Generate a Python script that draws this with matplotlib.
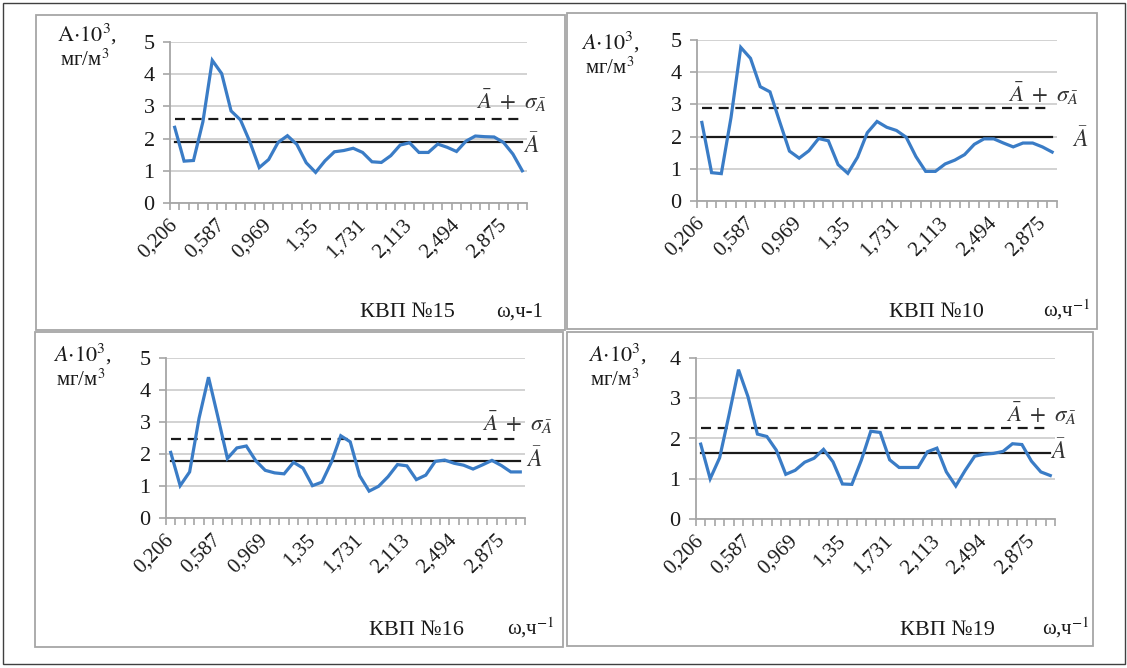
import numpy as np
import matplotlib
matplotlib.use('Agg')
import matplotlib.pyplot as plt
from matplotlib.patches import Rectangle

plt.rcParams['font.family'] = ['Liberation Serif', 'DejaVu Serif']
plt.rcParams['mathtext.fontset'] = 'stix'

# --- data ---
tick_labels = ['0,206', '0,587', '0,969', '1,35', '1,731', '2,113', '2,494', '2,875']

kvp15 = [2.35, 1.30, 1.32, 2.52, 4.43, 4.02, 2.86, 2.58, 1.90, 1.10,
         1.35, 1.88, 2.09, 1.82, 1.25, 0.95, 1.31, 1.59, 1.63, 1.70,
         1.57, 1.28, 1.26, 1.47, 1.80, 1.87, 1.57, 1.57, 1.83, 1.73,
         1.60, 1.92, 2.08, 2.06, 2.05, 1.88, 1.52, 1.00]
kvp10 = [2.44, 0.88, 0.85, 2.60, 4.77, 4.43, 3.55, 3.39, 2.46, 1.55,
         1.33, 1.56, 1.94, 1.87, 1.13, 0.86, 1.36, 2.12, 2.47, 2.29,
         2.19, 1.98, 1.38, 0.92, 0.92, 1.15, 1.27, 1.44, 1.76, 1.93,
         1.93, 1.80, 1.68, 1.80, 1.80, 1.68, 1.52]
kvp16 = [2.05, 1.01, 1.44, 3.12, 4.40, 3.15, 1.86, 2.19, 2.25, 1.79,
         1.49, 1.41, 1.38, 1.74, 1.56, 1.01, 1.12, 1.74, 2.57, 2.38,
         1.32, 0.84, 0.99, 1.29, 1.67, 1.63, 1.20, 1.34, 1.77, 1.81,
         1.71, 1.65, 1.53, 1.66, 1.80, 1.64, 1.44, 1.44]
kvp19 = [1.86, 1.00, 1.52, 2.59, 3.71, 3.04, 2.11, 2.05, 1.71, 1.11,
         1.21, 1.41, 1.51, 1.73, 1.42, 0.87, 0.86, 1.46, 2.18, 2.15,
         1.47, 1.28, 1.28, 1.28, 1.67, 1.76, 1.17, 0.82, 1.21, 1.56,
         1.61, 1.63, 1.68, 1.87, 1.85, 1.44, 1.17, 1.08]

means = [1.88, 1.98, 1.79, 1.65]
uppers = [2.61, 2.89, 2.48, 2.25]
names = ['КВП №15', 'КВП №10', 'КВП №16', 'КВП №19']
ymaxs = [5, 5, 5, 4]

W, H = 1127, 668
fig = plt.figure(figsize=(W / 100, H / 100), dpi=100)


def fx(x):
    return x / W


def fy(y):
    return 1 - y / H


def rect(x0, y0, x1, y1, color, lw):
    fig.patches.append(Rectangle((fx(x0), fy(y1)), fx(x1) - fx(x0), fy(y0) - fy(y1),
                                 transform=fig.transFigure, fill=False,
                                 edgecolor=color, linewidth=lw))


# outer frame and panel frames (pixels)
rect(3, 3, 1125, 664, '#404040', 1.0)
frames = [(36, 15, 565, 330), (567, 13, 1097, 329), (35, 332, 563, 647), (567, 332, 1093, 646)]
for f in frames:
    rect(*f, '#a6a6a6', 1.3)

# axes boxes: left, top(ymax), right, bottom(0) in pixels
axboxes = [(170, 42, 527, 203), (697, 40, 1057, 201), (166, 358, 525, 518), (696, 358, 1055, 519)]
series = [kvp15, kvp10, kvp16, kvp19]

# text anchors in pixels
ylab_pos = [(57, 41, 60, 66), (581, 49, 585, 74), (53, 361, 56, 386), (588, 361, 590, 386)]
name_pos = [(360, 317), (889, 317), (369, 635), (900, 635)]
omega_pos = [(496, 317), (1043, 317), (507, 635), (1042, 635)]
upper_pos = [(511, 101), (1043, 94), (517, 423), (1041, 414)]
mean_pos = [(531, 146), (1080, 140), (534, 460), (1058, 452)]

txt = '#1a1a1a'
for i in range(4):
    vals = series[i]
    n = len(vals)
    x = np.arange(n)
    l, t, r, b = axboxes[i]
    ax = fig.add_axes([fx(l), fy(b), fx(r) - fx(l), fy(t) - fy(b)])
    ax.plot(x, vals, color='#3a7cc6', lw=2.3, zorder=3, solid_joinstyle='miter')
    ax.plot([0, n - 1], [means[i], means[i]], color='#1a1a1a', lw=1.6, zorder=2)
    ax.plot([0, n - 1], [uppers[i], uppers[i]], color='#1a1a1a', lw=1.6,
            ls=(0, (4.5, 3)), zorder=2)
    ax.set_xlim(-0.5, n - 0.5)
    ax.set_ylim(0, ymaxs[i])
    ax.set_yticks(range(ymaxs[i] + 1))
    ax.yaxis.grid(True, color='#cfcfcf', lw=1.3)
    ax.set_axisbelow(True)
    for s in ['top', 'right']:
        ax.spines[s].set_visible(False)
    for s in ['left', 'bottom']:
        ax.spines[s].set_color('#a6a6a6')
        ax.spines[s].set_linewidth(1.3)
    ax.set_xticks(np.arange(0, n, 5)[:len(tick_labels)])
    ax.set_xticklabels(tick_labels, rotation=45, ha='right', va='center',
                       rotation_mode='anchor', fontsize=15, color=txt)
    ax.set_xticks(np.arange(n + 1) - 0.5, minor=True)
    ax.tick_params(axis='x', which='major', length=0, pad=14)
    ax.tick_params(axis='x', which='minor', length=5, width=1.2, color='#a6a6a6')
    ax.tick_params(axis='y', length=5, width=1.2, color='#a6a6a6', pad=6,
                   labelsize=16, labelcolor=txt)

    yl = r'$\mathrm{A}{\cdot}10^{3}$,' if i == 0 else r'$A{\cdot}10^{3}$,'
    fig.text(fx(ylab_pos[i][0]), fy(ylab_pos[i][1]), yl, fontsize=16,
             ha='left', va='baseline', color=txt)
    fig.text(fx(ylab_pos[i][2]), fy(ylab_pos[i][3]), 'мг/м$^3$', fontsize=15,
             ha='left', va='baseline', color=txt)
    fig.text(fx(name_pos[i][0]), fy(name_pos[i][1]), names[i], fontsize=16,
             ha='left', va='baseline', color=txt)
    om = 'ω,ч-1' if i == 0 else 'ω,ч$^{-1}$'
    fig.text(fx(omega_pos[i][0]), fy(omega_pos[i][1]), om, fontsize=15,
             ha='left', va='baseline', color=txt)
    fig.text(fx(upper_pos[i][0]), fy(upper_pos[i][1]), r'$\bar{A}\ +\ \sigma_{\bar{A}}$',
             fontsize=16.5, ha='center', va='center', color='#333333')
    fig.text(fx(mean_pos[i][0]), fy(mean_pos[i][1]), r'$\bar{A}$',
             fontsize=17, ha='center', va='center', color='#333333')

fig.savefig('out.png', dpi=100)
